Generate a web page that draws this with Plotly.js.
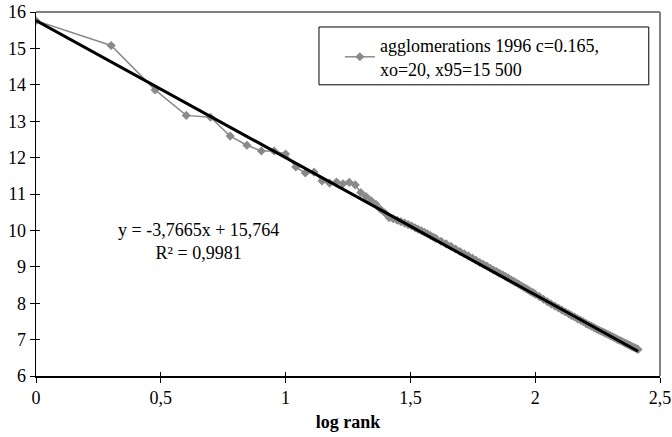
<!DOCTYPE html>
<html>
<head>
<meta charset="utf-8">
<script src="https://cdn.plot.ly/plotly-3.0.1.min.js"></script>
<style>html,body{margin:0;padding:0;background:#fff;}#chart{width:672px;height:437px;}</style>
</head>
<body>
<div id="chart"></div>
<script>
// log rank (x) and log size (y)
var logRank = [0, 0.301, 0.477, 0.602, 0.699, 0.778, 0.845, 0.903, 0.954, 1.000,
  1.041, 1.079, 1.114, 1.146, 1.176, 1.204, 1.230, 1.255, 1.279, 1.301,
  1.322, 1.342, 1.362, 1.380, 1.398, 1.415, 1.431, 1.447, 1.462, 1.477,
  1.491, 1.505, 1.519, 1.531, 1.544, 1.556, 1.568, 1.580, 1.591, 1.602,
  1.623, 1.643, 1.663, 1.681, 1.699, 1.716, 1.732, 1.748, 1.763, 1.778,
  1.792, 1.806, 1.820, 1.833, 1.845, 1.857, 1.869, 1.881, 1.892, 1.903,
  1.914, 1.924, 1.934, 1.944, 1.954, 1.964, 1.973, 1.982, 1.991, 2.000,
  2.017, 2.033, 2.049, 2.064, 2.079, 2.093, 2.107, 2.121, 2.134, 2.146,
  2.158, 2.170, 2.182, 2.193, 2.204, 2.215, 2.225, 2.236, 2.246, 2.255,
  2.265, 2.274, 2.283, 2.292, 2.301, 2.310, 2.318, 2.326, 2.334, 2.342,
  2.350, 2.358, 2.365, 2.373, 2.380, 2.387, 2.394, 2.401, 2.408, 2.412];
var logSize = [15.76, 15.08, 13.86, 13.16, 13.11, 12.59, 12.34, 12.18, 12.18, 12.10,
  11.74, 11.58, 11.60, 11.36, 11.30, 11.33, 11.28, 11.32, 11.25, 11.04,
  10.93, 10.82, 10.72, 10.58, 10.48, 10.35, 10.32, 10.28, 10.24, 10.20,
  10.16, 10.12, 10.07, 10.03, 9.99, 9.95, 9.91, 9.86, 9.82, 9.78,
  9.70, 9.63, 9.56, 9.49, 9.42, 9.36, 9.30, 9.24, 9.18, 9.12,
  9.07, 9.02, 8.96, 8.91, 8.87, 8.82, 8.78, 8.73, 8.69, 8.64,
  8.60, 8.56, 8.52, 8.48, 8.44, 8.40, 8.36, 8.32, 8.29, 8.25,
  8.18, 8.11, 8.04, 7.98, 7.92, 7.87, 7.81, 7.76, 7.71, 7.66,
  7.62, 7.57, 7.53, 7.49, 7.44, 7.40, 7.37, 7.33, 7.29, 7.26,
  7.23, 7.20, 7.17, 7.14, 7.11, 7.08, 7.05, 7.02, 6.99, 6.97,
  6.94, 6.91, 6.89, 6.86, 6.84, 6.81, 6.79, 6.77, 6.75, 6.73];
var seriesName = "agglomerations 1996 c=0.165,<br>xo=20, x95=15 500";
var trendSlope = -3.7665;
var trendIntercept = 15.764;
var trendText = "y = -3,7665x + 15,764<br>R² = 0,9981";
var xTicks = [0, 0.5, 1, 1.5, 2, 2.5];
var yTicks = [6, 7, 8, 9, 10, 11, 12, 13, 14, 15, 16];

var trendX = [logRank[0], logRank[logRank.length - 1]];
var trendY = trendX.map(function (x) { return trendIntercept + trendSlope * x; });

var FONT = "Liberation Serif, Times New Roman, serif";
var FS = 18;

var data = [
  {
    x: logRank, y: logSize, type: "scatter", mode: "lines+markers",
    name: seriesName,
    line: {color: "#8a8a8a", width: 1.5},
    marker: {symbol: "diamond", size: 7, color: "#8a8a8a"}
  },
  {
    x: trendX, y: trendY, type: "scatter", mode: "lines",
    showlegend: false, hoverinfo: "skip",
    line: {color: "#000000", width: 3}
  },
  // invisible trace on overlay axes for the inner half of the cross ticks
  {x: [0], y: [6], xaxis: "x2", yaxis: "y2", mode: "markers",
   marker: {opacity: 0}, showlegend: false, hoverinfo: "skip"}
];

var layout = {
  width: 672, height: 437,
  margin: {l: 36, r: 12, t: 12, b: 61},
  paper_bgcolor: "#ffffff", plot_bgcolor: "#ffffff",
  separators: ", ",
  font: {family: FONT, size: FS, color: "#000"},
  showlegend: true,
  xaxis: {
    range: [0, 2.5], tickvals: xTicks, ticks: "outside", ticklen: 5, tickwidth: 1,
    tickcolor: "#000", showline: true, linecolor: "#000", linewidth: 1.5,
    showgrid: false, zeroline: false,
    tickfont: {family: FONT, size: FS},
    title: {text: "<b>log rank</b>", font: {family: FONT, size: FS}, standoff: 8}
  },
  yaxis: {
    range: [6, 16], tickvals: yTicks, ticks: "outside", ticklen: 5, tickwidth: 1,
    tickcolor: "#000", showline: true, linecolor: "#000", linewidth: 1.5,
    showgrid: false, zeroline: false,
    tickfont: {family: FONT, size: FS}
  },
  xaxis2: {overlaying: "x", range: [0, 2.5], tickvals: xTicks, ticks: "inside",
    ticklen: 4, tickcolor: "#000", showticklabels: false, showline: false,
    showgrid: false, zeroline: false, anchor: "y2"},
  yaxis2: {overlaying: "y", range: [6, 16], tickvals: yTicks, ticks: "inside",
    ticklen: 4, tickcolor: "#000", showticklabels: false, showline: false,
    showgrid: false, zeroline: false, anchor: "x2"},
  legend: {
    x: 0.487, y: 0.959, xanchor: "left", yanchor: "top",
    bgcolor: "rgba(0,0,0,0)", borderwidth: 0,
    font: {family: FONT, size: FS, color: "#000"},
    itemwidth: 30
  },
  shapes: [
    {type: "line", xref: "paper", yref: "paper", x0: 0, x1: 1, y0: 1, y1: 1,
     line: {color: "#808080", width: 2}},
    {type: "line", xref: "paper", yref: "paper", x0: 1, x1: 1, y0: 0, y1: 1,
     line: {color: "#808080", width: 2}},
    {type: "rect", xref: "paper", yref: "paper", x0: 0.4535, x1: 0.982, y0: 0.80, y1: 0.9588,
     line: {color: "#000", width: 1}, fillcolor: "rgba(0,0,0,0)"}
  ],
  annotations: [
    {x: 0.65, y: 9.70, xref: "x", yref: "y", text: trendText, showarrow: false,
     align: "center", xanchor: "center", yanchor: "middle",
     font: {family: FONT, size: FS}}
  ]
};

Plotly.newPlot("chart", data, layout, {displayModeBar: false, staticPlot: true});
</script>
</body>
</html>
